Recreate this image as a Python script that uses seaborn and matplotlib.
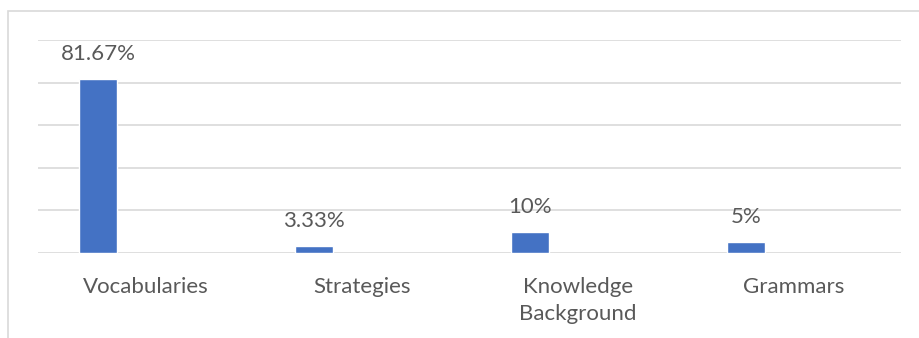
import numpy as np
import pandas as pd
import matplotlib
matplotlib.use("Agg")
import matplotlib.pyplot as plt
from matplotlib.patches import Rectangle
import seaborn as sns

# Data
categories = ["Vocabularies", "Strategies", "Knowledge\nBackground", "Grammars"]
values = [81.67, 3.33, 10, 5]
value_labels = ["81.67%", "3.33%", "10%", "5%"]

df = pd.DataFrame({"category": categories, "value": values})

sns.set_theme(style="white")
plt.rcParams["font.family"] = ["Lato", "DejaVu Sans"]

TEXT = "#595959"
GRID = "#D9D9D9"
BAR = "#4472C4"

fig = plt.figure(figsize=(9.19, 3.38), dpi=100)
ax = fig.add_axes([38 / 919, 85 / 338, 863 / 919, 213 / 338])

sns.barplot(data=df, x="category", y="value", color=BAR, saturation=1,
            width=0.176, ax=ax)

# bars sit at the left of each category slot; labels at slot centres
offset = 0.222
ax.set_xlim(-0.278, 3.718)
ax.set_xticks(np.arange(len(categories)) + offset)
ax.set_xticklabels(categories, color=TEXT, fontsize=16, linespacing=1.45)
ax.tick_params(axis="x", length=0, pad=17)

ax.set_ylim(0, 100)
ax.set_yticks(np.arange(0, 101, 20))
ax.set_yticklabels([])
ax.tick_params(axis="y", length=0)
ax.yaxis.grid(True, color=GRID, linewidth=1.2)
ax.set_axisbelow(True)
for s in ax.spines.values():
    s.set_visible(False)
ax.set_xlabel("")
ax.set_ylabel("")

for patch, lab in zip(ax.patches, value_labels):
    cx = patch.get_x() + patch.get_width() / 2
    ax.annotate(lab, (cx, patch.get_height()), xytext=(0, 18),
                textcoords="offset points", ha="center", va="center",
                color=TEXT, fontsize=16)

# chart area frame
fig.patches.append(Rectangle((8 / 919, -0.2), 1.2, 1.2 + (338 - 11) / 338 - 1.0,
                             transform=fig.transFigure, fill=False,
                             edgecolor=GRID, linewidth=1.2))

fig.savefig("out.png", dpi=100, facecolor="white")
